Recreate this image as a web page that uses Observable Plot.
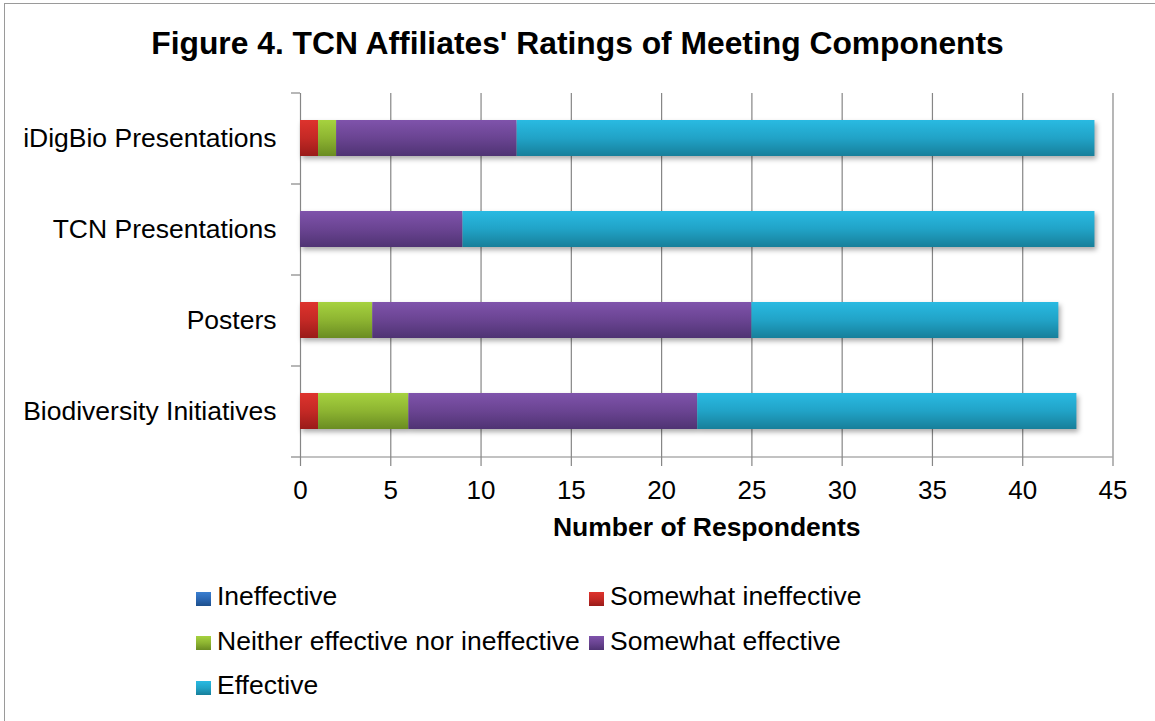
<!DOCTYPE html>
<html>
<head>
<meta charset="utf-8">
<script src="https://cdn.jsdelivr.net/npm/d3@7"></script>
<script src="https://cdn.jsdelivr.net/npm/@observablehq/plot@0.6"></script>
<style>
  html, body { margin: 0; padding: 0; background: #fff; overflow: hidden; width: 1155px; height: 721px; }
  #wrap { position: relative; width: 1155px; height: 721px; font-family: "Liberation Sans", Arial, sans-serif; color: #000; }
  #frame { position: absolute; left: 4px; top: 3px; width: 1300px; height: 900px; border: 1px solid #9a9a9a; box-sizing: border-box; }
  #chart { position: absolute; left: 0; top: 0; }
  #chart svg { background: transparent !important; overflow: visible; }
  #title { position: absolute; left: 0; top: 28px; width: 1155px; text-align: center; font-weight: bold; font-size: 31.8px; line-height: 31.8px; white-space: nowrap; z-index: 2; }
  .lg { position: absolute; height: 26px; white-space: nowrap; z-index: 2; }
  .lg .sw { position: absolute; left: 0; width: 15px; height: 14px; }
  .lg .tx { position: absolute; left: 21px; font-size: 26.5px; line-height: 26.5px; }
  g[aria-label="bar"] { filter: drop-shadow(2px 3px 2.5px rgba(0,0,0,0.33)); }
</style>
</head>
<body>
<div id="wrap">
  <div id="frame"></div>
  <div id="chart"></div>
  <div id="title">Figure 4. TCN Affiliates' Ratings of Meeting Components</div>
  <div id="legend"></div>
</div>
<script>
// ---- data ----
const components = ["iDigBio Presentations", "TCN Presentations", "Posters", "Biodiversity Initiatives"];
const ratings = ["Ineffective", "Somewhat ineffective", "Neither effective nor ineffective", "Somewhat effective", "Effective"];
const ineffective = [0, 0, 0, 0];
const somewhatIneffective = [1, 0, 1, 1];
const neither = [1, 0, 3, 5];
const somewhatEffective = [10, 9, 21, 16];
const effective = [32, 35, 17, 21];
const xTicks = [0, 5, 10, 15, 20, 25, 30, 35, 40, 45];
const xLabel = "Number of Respondents";

// gradient colours (top, middle, bottom) per rating
const gradients = [
  ["#3a7fd0", "#2b68b4", "#1d4f8c"],
  ["#de332d", "#c42925", "#991b19"],
  ["#a6d23f", "#8db431", "#6a8c22"],
  ["#7f53ab", "#6a4492", "#4f3373"],
  ["#29bae2", "#21a3c7", "#177f9a"]
];

const seriesValues = [ineffective, somewhatIneffective, neither, somewhatEffective, effective];
const table = [];
components.forEach((c, ci) => {
  ratings.forEach((r, ri) => {
    table.push({component: c, rating: r, value: seriesValues[ri][ci]});
  });
});

const W = 1155, H = 560;
const gridColor = "#868686";
const step = (457 - 93) / components.length;

const plot = Plot.plot({
  width: W,
  height: H,
  marginTop: 93,
  marginBottom: H - 457,
  marginLeft: 300,
  marginRight: 42.5,
  style: {fontFamily: "Liberation Sans, Arial, sans-serif", color: "#000", background: "transparent"},
  x: {domain: [0, 45], ticks: xTicks},
  y: {domain: components, paddingInner: 0.6, paddingOuter: 0.3},
  color: {domain: ratings, range: ratings.map((_, i) => `url(#grad${i})`)},
  marks: [
    Plot.ruleX(xTicks, {stroke: gridColor, strokeWidth: 1.2}),
    Plot.barX(table, {x: "value", y: "component", fill: "rating", order: null}),
    Plot.tickY([components[components.length - 1]], {y: d => d, dy: step / 2, stroke: gridColor, strokeWidth: 1.2}),
    Plot.axisY({tickSize: 0, tickPadding: 24, fontSize: 26.5, label: null, fill: "#000"}),
    Plot.axisY({tickSize: 9, dy: -step / 2, tickFormat: () => "", label: null, stroke: gridColor, strokeWidth: 1.2}),
    Plot.axisY({ticks: [components[components.length - 1]], tickSize: 9, dy: step / 2, tickFormat: () => "", label: null, stroke: gridColor, strokeWidth: 1.2}),
    Plot.axisX({ticks: xTicks, tickSize: 9, tickPadding: 14, fontSize: 26, label: null, stroke: gridColor, strokeWidth: 1.2, fill: "#000"}),
    Plot.text([xLabel], {frameAnchor: "bottom", dy: 78, fontSize: 26.5, fontWeight: "bold", fill: "#000"})
  ]
});

// gradient definitions referenced by the colour scale
const ns = "http://www.w3.org/2000/svg";
const defs = document.createElementNS(ns, "defs");
gradients.forEach((g, i) => {
  const lg = document.createElementNS(ns, "linearGradient");
  lg.setAttribute("id", `grad${i}`);
  lg.setAttribute("x1", "0"); lg.setAttribute("y1", "0");
  lg.setAttribute("x2", "0"); lg.setAttribute("y2", "1");
  [[0, g[0]], [0.5, g[1]], [1, g[2]]].forEach(([o, c]) => {
    const s = document.createElementNS(ns, "stop");
    s.setAttribute("offset", o);
    s.setAttribute("stop-color", c);
    lg.appendChild(s);
  });
  defs.appendChild(lg);
});
plot.insertBefore(defs, plot.firstChild);
document.getElementById("chart").appendChild(plot);

// legend (two columns, row-major like the reference)
const legend = document.getElementById("legend");
const colX = [196, 589];
const rowTop = [591.5, 636, 680.5];
ratings.forEach((r, i) => {
  const col = i % 2, row = Math.floor(i / 2);
  const item = document.createElement("div");
  item.className = "lg";
  item.style.left = colX[col] + "px";
  item.style.top = rowTop[row] + "px";
  const sw = document.createElement("div");
  sw.className = "sw";
  sw.style.top = "0px";
  sw.style.background = `linear-gradient(to bottom, ${gradients[i][0]}, ${gradients[i][1]}, ${gradients[i][2]})`;
  const tx = document.createElement("div");
  tx.className = "tx";
  tx.style.top = "-8.5px";
  tx.textContent = r;
  item.appendChild(sw);
  item.appendChild(tx);
  legend.appendChild(item);
});
</script>
</body>
</html>
